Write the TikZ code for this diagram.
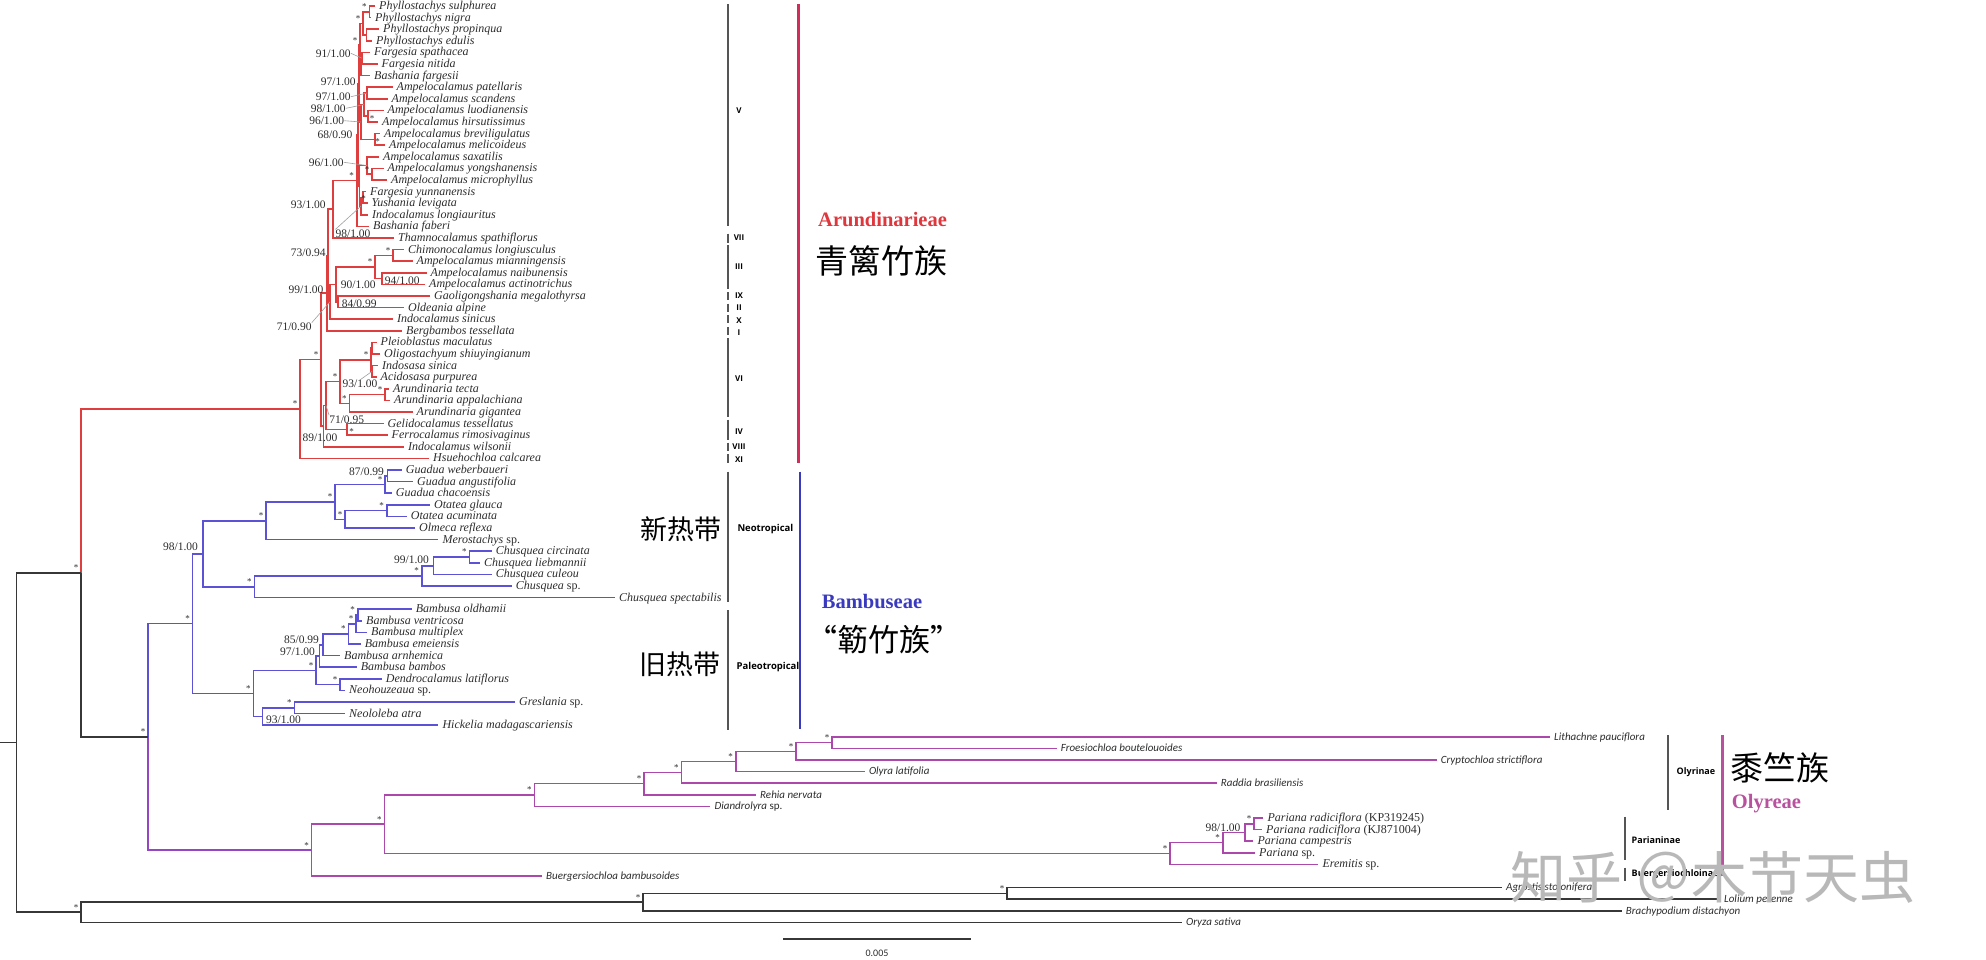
\documentclass[tikz,border=0pt]{standalone}
\usepackage{fontspec}
\setmainfont{Liberation Serif}
\newfontfamily\condf{Carlito}
\newfontfamily\osans{Open Sans}
\newfontfamily\cjkf{Noto Sans CJK SC}
\usetikzlibrary{calc}
\definecolor{rdc}{RGB}{222,62,62}
\definecolor{blc}{RGB}{92,82,214}
\definecolor{vic}{RGB}{150,70,195}
\definecolor{mgc}{RGB}{172,72,172}
\definecolor{bkc}{RGB}{55,55,55}
\definecolor{txc}{RGB}{45,45,45}
\definecolor{barg}{RGB}{85,85,85}
\definecolor{arub}{RGB}{212,44,88}
\definecolor{arut}{RGB}{222,56,62}
\definecolor{bamb}{RGB}{58,58,190}
\definecolor{olyb}{RGB}{184,82,158}
\newcommand\st[2][-5,-5]{\node[ast] (s#2) at ($(#2)+(#1)$) {*};}
\begin{document}
\begin{tikzpicture}[x=1pt,y=-1pt,
  tree/.style={line width=1.6pt},
  rdl/.style={tree, draw=rdc},
  bll/.style={tree, draw=blc},
  mgl/.style={tree, draw=mgc},
  bkl/.style={tree, draw=bkc},
  tx/.style={anchor=west, inner xsep=4pt, inner ysep=0pt, text height=8pt, text depth=1pt, text=txc, font=\fontsize{12}{12}\selectfont\itshape},
  tc/.style={tx, font=\condf\fontsize{11}{11}\selectfont\itshape, text height=7.5pt},
  sup/.style={inner sep=0pt, text=txc, font=\fontsize{11.5}{11.5}\selectfont},
  ast/.style={inner sep=0pt, text=txc, font=\fontsize{9}{9}\selectfont},
  ldr/.style={draw=gray!75, line width=0.6pt},
  gbar/.style={draw=barg, line width=2pt},
  rom/.style={font=\osans\bfseries\fontsize{8}{8}\selectfont, text=black, inner sep=0pt},
  grp/.style={font=\osans\bfseries\fontsize{9.5}{9.5}\selectfont, text=black, inner sep=0pt},
  tribe/.style={font=\bfseries\fontsize{20.5}{20.5}\selectfont, inner sep=0pt, anchor=west},
  zh/.style={font=\cjkf\fontsize{33}{33}\selectfont, inner sep=0pt, text=black},
]
\fill[white] (0,0) rectangle (1986,959);
\useasboundingbox (0,0) rectangle (1986,959);

% ---------- internal nodes ----------
\coordinate (Ph1) at (369.3,11.8);
\coordinate (Ph2) at (366.5,35.0);
\coordinate (Phy) at (363,23.4);
\coordinate (Fg) at (362,58.2);
\coordinate (FB) at (361,66.9);
\coordinate (PFB) at (360,45.15);
\coordinate (Ap1) at (367,93.0);
\coordinate (Ap2) at (368,116.2);
\coordinate (Ap12) at (364,104.6);
\coordinate (Ap3) at (375,139.4);
\coordinate (Ap123) at (361,122.0);
\coordinate (G1) at (359,83.6);
\coordinate (Ap4a) at (372,174.2);
\coordinate (Ap4) at (367,165.5);
\coordinate (Yus) at (363,197.4);
\coordinate (Yus2) at (361,206.1);
\coordinate (G3) at (359.5,185.8);
\coordinate (X) at (358,134.7);
\coordinate (Vc) at (356.7,180.5);
\coordinate (NV7) at (333,209.25);
\coordinate (C1) at (393,255.4);
\coordinate (C2) at (382,278.6);
\coordinate (III) at (375,267.0);
\coordinate (N8) at (338,301.8);
\coordinate (N7) at (336,284.4);
\coordinate (N6) at (330,301.8);
\coordinate (N5) at (328,255.5);
\coordinate (N3) at (327,293.15);
\coordinate (VI1p) at (372,348.2);
\coordinate (VI1q) at (372,371.4);
\coordinate (VI1) at (371,359.8);
\coordinate (Ar1) at (385,394.6);
\coordinate (Ar) at (349.3,403.3);
\coordinate (VI) at (340,381.55);
\coordinate (IV) at (346.7,429.4);
\coordinate (NVI4) at (326,405.5);
\coordinate (N4) at (323.3,426.15);
\coordinate (N2) at (321,359.65);
\coordinate (N1) at (300,409.0);
\coordinate (Gwa) at (387.3,475.8);
\coordinate (Gu) at (385,484.5);
\coordinate (Ot) at (386.7,510.6);
\coordinate (Ot2) at (345,519.3);
\coordinate (GO) at (335,501.9);
\coordinate (Neo1) at (266,520.75);
\coordinate (Ch1) at (469.3,557.0);
\coordinate (Ch2) at (433.3,565.7);
\coordinate (Ch3) at (421.7,575.85);
\coordinate (Ch4) at (254.3,586.7);
\coordinate (Neo) at (203,553.7);
\coordinate (B1) at (357.7,615.0);
\coordinate (B2) at (356,623.7);
\coordinate (B3) at (348.3,633.85);
\coordinate (B4) at (322.7,644.7);
\coordinate (B5) at (319.3,655.95);
\coordinate (DN) at (340,684.6);
\coordinate (Pal1) at (316,670.3);
\coordinate (GN) at (294.3,707.8);
\coordinate (GNH) at (262.3,716.5);
\coordinate (Pal) at (253.3,693.4);
\coordinate (Bam) at (192.5,623.55);
\coordinate (O6) at (832.2,742.6);
\coordinate (O5) at (796,751.3);
\coordinate (O4) at (735.7,761.45);
\coordinate (O3) at (681.3,772.3);
\coordinate (O2) at (644,783.55);
\coordinate (O1) at (534.3,794.95);
\coordinate (P1) at (1254,823.8);
\coordinate (P2) at (1245,832.5);
\coordinate (P3) at (1222.7,842.65);
\coordinate (P4) at (1170,853.5);
\coordinate (Oly) at (384.3,824.2);
\coordinate (Ol) at (311.6,850.1);
\coordinate (BO) at (148,736.8);
\coordinate (Ing) at (81,572.9);
\coordinate (Pooid1) at (1007,893.4);
\coordinate (Pooid2) at (643,902.1);
\coordinate (Out) at (81,912.25);
\coordinate (Root) at (16.5,742.6);
\coordinate (RB) at (0,742.6);

% ---------- leaves ----------
\node[tx] (L0) at (375,6) {Phyllostachys sulphurea};
\node[tx] (L1) at (371,17.6) {Phyllostachys nigra};
\node[tx] (L2) at (379,29.2) {Phyllostachys propinqua};
\node[tx] (L3) at (372,40.8) {Phyllostachys edulis};
\node[tx] (L4) at (370,52.4) {Fargesia spathacea};
\node[tx] (L5) at (377.5,64) {Fargesia nitida};
\node[tx] (L6) at (370,75.6) {Bashania fargesii};
\node[tx] (L7) at (392.5,87.2) {Ampelocalamus patellaris};
\node[tx] (L8) at (387.5,98.8) {Ampelocalamus scandens};
\node[tx] (L9) at (383.5,110.4) {Ampelocalamus luodianensis};
\node[tx] (L10) at (378,122) {Ampelocalamus hirsutissimus};
\node[tx] (L11) at (380,133.6) {Ampelocalamus breviligulatus};
\node[tx] (L12) at (385,145.2) {Ampelocalamus melicoideus};
\node[tx] (L13) at (379,156.8) {Ampelocalamus saxatilis};
\node[tx] (L14) at (383.5,168.4) {Ampelocalamus yongshanensis};
\node[tx] (L15) at (387,180) {Ampelocalamus microphyllus};
\node[tx] (L16) at (366,191.6) {Fargesia yunnanensis};
\node[tx] (L17) at (367.5,203.2) {Yushania levigata};
\node[tx] (L18) at (368,214.8) {Indocalamus longiauritus};
\node[tx] (L19) at (369,226.4) {Bashania faberi};
\node[tx] (L20) at (394,238) {Thamnocalamus spathiflorus};
\node[tx] (L21) at (404,249.6) {Chimonocalamus longiusculus};
\node[tx] (L22) at (412.5,261.2) {Ampelocalamus mianningensis};
\node[tx] (L23) at (426.5,272.8) {Ampelocalamus naibunensis};
\node[tx] (L24) at (425,284.4) {Ampelocalamus actinotrichus};
\node[tx] (L25) at (430,296) {Gaoligongshania megalothyrsa};
\node[tx] (L26) at (404,307.6) {Oldeania alpine};
\node[tx] (L27) at (393,319.2) {Indocalamus sinicus};
\node[tx] (L28) at (402,330.8) {Bergbambos tessellata};
\node[tx] (L29) at (376.5,342.4) {Pleioblastus maculatus};
\node[tx] (L30) at (380,354) {Oligostachyum shiuyingianum};
\node[tx] (L31) at (378,365.6) {Indosasa sinica};
\node[tx] (L32) at (376.5,377.2) {Acidosasa purpurea};
\node[tx] (L33) at (389,388.8) {Arundinaria tecta};
\node[tx] (L34) at (390,400.4) {Arundinaria appalachiana};
\node[tx] (L35) at (412.5,412) {Arundinaria gigantea};
\node[tx] (L36) at (383.5,423.6) {Gelidocalamus tessellatus};
\node[tx] (L37) at (387.5,435.2) {Ferrocalamus rimosivaginus};
\node[tx] (L38) at (404,446.8) {Indocalamus wilsonii};
\node[tx] (L39) at (429,458.4) {Hsuehochloa calcarea};
\node[tx] (L40) at (401.7,470) {Guadua weberbaueri};
\node[tx] (L41) at (413,481.6) {Guadua angustifolia};
\node[tx] (L42) at (391.7,493.2) {Guadua chacoensis};
\node[tx] (L43) at (430,504.8) {Otatea glauca};
\node[tx] (L44) at (406.7,516.4) {Otatea acuminata};
\node[tx] (L45) at (415,528) {Olmeca reflexa};
\node[tx] (L46) at (438.3,539.6) {Merostachys \textup{sp.}};
\node[tx] (L47) at (491.7,551.2) {Chusquea circinata};
\node[tx] (L48) at (480,562.8) {Chusquea liebmannii};
\node[tx] (L49) at (491.7,574.4) {Chusquea culeou};
\node[tx] (L50) at (511.7,586) {Chusquea \textup{sp.}};
\node[tx] (L51) at (615,597.6) {Chusquea spectabilis};
\node[tx] (L52) at (411.7,609.2) {Bambusa oldhamii};
\node[tx] (L53) at (362,620.8) {Bambusa ventricosa};
\node[tx] (L54) at (367,632.4) {Bambusa multiplex};
\node[tx] (L55) at (360.7,644) {Bambusa emeiensis};
\node[tx] (L56) at (340,655.6) {Bambusa arnhemica};
\node[tx] (L57) at (356.7,667.2) {Bambusa bambos};
\node[tx] (L58) at (381.7,678.8) {Dendrocalamus latiflorus};
\node[tx] (L59) at (345,690.4) {Neohouzeaua \textup{sp.}};
\node[tx] (L60) at (515,702) {Greslania \textup{sp.}};
\node[tx] (L61) at (345,713.6) {Neololeba atra};
\node[tx] (L62) at (438.3,725.2) {Hickelia madagascariensis};
\node[tc] (L63) at (1550,736.8) {Lithachne pauciflora};
\node[tc] (L64) at (1056.7,748.4) {Froesiochloa boutelouoides};
\node[tc] (L65) at (1436.7,760) {Cryptochloa strictiflora};
\node[tc] (L66) at (864.8,771.6) {Olyra latifolia};
\node[tc] (L67) at (1216.7,783.2) {Raddia brasiliensis};
\node[tc] (L68) at (756,794.8) {Rehia nervata};
\node[tc] (L69) at (710.4,806.4) {Diandrolyra \textup{sp.}};
\node[tx] (L70) at (1263.3,818) {Pariana radiciflora \textup{(KP319245)}};
\node[tx] (L71) at (1262,829.6) {Pariana radiciflora \textup{(KJ871004)}};
\node[tx] (L72) at (1253.3,841.2) {Pariana campestris};
\node[tx] (L73) at (1255,852.8) {Pariana \textup{sp.}};
\node[tx] (L74) at (1318.3,864.4) {Eremitis \textup{sp.}};
\node[tc] (L75) at (542,876) {Buergersiochloa bambusoides};
\node[tc] (L76) at (1502,887.6) {Agrostis stolonifera};
\node[tc] (L77) at (1720,899.2) {Lolium perenne};
\node[tc] (L78) at (1621.7,910.8) {Brachypodium distachyon};
\node[tc] (L79) at (1182,922.4) {Oryza sativa};

% ---------- branches ----------
\begin{scope}[rdl]
\draw (Ph1) |- (L0.west); \draw (Ph1) |- (L1.west);
\draw (Ph2) |- (L2.west); \draw (Ph2) |- (L3.west);
\draw (Phy) |- (Ph1); \draw (Phy) |- (Ph2);
\draw (Fg) |- (L4.west); \draw (Fg) |- (L5.west);
\draw (FB) |- (Fg); \draw (FB) |- (L6.west);
\draw (PFB) |- (Phy); \draw (PFB) |- (FB);
\draw (Ap1) |- (L7.west); \draw (Ap1) |- (L8.west);
\draw (Ap2) |- (L9.west); \draw (Ap2) |- (L10.west);
\draw (Ap12) |- (Ap1); \draw (Ap12) |- (Ap2);
\draw (Ap3) |- (L11.west); \draw (Ap3) |- (L12.west);
\draw (Ap123) |- (Ap12); \draw (Ap123) |- (Ap3);
\draw (G1) |- (PFB); \draw (G1) |- (Ap123);
\draw (Ap4a) |- (L14.west); \draw (Ap4a) |- (L15.west);
\draw (Ap4) |- (L13.west); \draw (Ap4) |- (Ap4a);
\draw (Yus) |- (L16.west); \draw (Yus) |- (L17.west);
\draw (Yus2) |- (Yus); \draw (Yus2) |- (L18.west);
\draw (G3) |- (Ap4); \draw (G3) |- (Yus2);
\draw (X) |- (G1); \draw (X) |- (G3);
\draw (Vc) |- (X); \draw (Vc) |- (L19.west);
\draw (NV7) |- (Vc); \draw (NV7) |- (L20.west);
\draw (C1) |- (L21.west); \draw (C1) |- (L22.west);
\draw (C2) |- (L23.west); \draw (C2) |- (L24.west);
\draw (III) |- (C1); \draw (III) |- (C2);
\draw (N8) |- (L25.west); \draw (N8) |- (L26.west);
\draw (N7) |- (III); \draw (N7) |- (N8);
\draw (N6) |- (N7); \draw (N6) |- (L27.west);
\draw (N5) |- (NV7); \draw (N5) |- (N6);
\draw (N3) |- (N5); \draw (N3) |- (L28.west);
\draw (VI1p) |- (L29.west); \draw (VI1p) |- (L30.west);
\draw (VI1q) |- (L31.west); \draw (VI1q) |- (L32.west);
\draw (VI1) |- (VI1p); \draw (VI1) |- (VI1q);
\draw (Ar1) |- (L33.west); \draw (Ar1) |- (L34.west);
\draw (Ar) |- (Ar1); \draw (Ar) |- (L35.west);
\draw (VI) |- (VI1); \draw (VI) |- (Ar);
\draw (IV) |- (L36.west); \draw (IV) |- (L37.west);
\draw (NVI4) |- (VI); \draw (NVI4) |- (IV);
\draw (N4) |- (NVI4); \draw (N4) |- (L38.west);
\draw (N2) |- (N3); \draw (N2) |- (N4);
\draw (N1) |- (N2); \draw (N1) |- (L39.west);
\draw (Ing) |- (N1);
\end{scope}
\begin{scope}[bll]
\draw (Gwa) |- (L40.west); \draw (Gwa) |- (L41.west);
\draw (Gu) |- (Gwa); \draw (Gu) |- (L42.west);
\draw (Ot) |- (L43.west); \draw (Ot) |- (L44.west);
\draw (Ot2) |- (Ot); \draw (Ot2) |- (L45.west);
\draw (GO) |- (Gu); \draw (GO) |- (Ot2);
\draw (Neo1) |- (GO); \draw (Neo1) |- (L46.west);
\draw (Ch1) |- (L47.west); \draw (Ch1) |- (L48.west);
\draw (Ch2) |- (Ch1); \draw (Ch2) |- (L49.west);
\draw (Ch3) |- (Ch2); \draw (Ch3) |- (L50.west);
\draw (Ch4) |- (Ch3); \draw (Ch4) |- (L51.west);
\draw (Neo) |- (Neo1); \draw (Neo) |- (Ch4);
\draw (B1) |- (L52.west); \draw (B1) |- (L53.west);
\draw (B2) |- (B1); \draw (B2) |- (L54.west);
\draw (B3) |- (B2); \draw (B3) |- (L55.west);
\draw (B4) |- (B3); \draw (B4) |- (L56.west);
\draw (B5) |- (B4); \draw (B5) |- (L57.west);
\draw (DN) |- (L58.west); \draw (DN) |- (L59.west);
\draw (Pal1) |- (B5); \draw (Pal1) |- (DN);
\draw (GN) |- (L60.west); \draw (GN) |- (L61.west);
\draw (GNH) |- (GN); \draw (GNH) |- (L62.west);
\draw (Pal) |- (Pal1); \draw (Pal) |- (GNH);
\draw (Bam) |- (Neo); \draw (Bam) |- (Pal);
\draw (BO) |- (Bam);
\end{scope}
\draw[tree, draw=vic] (BO) |- (Ol);
\begin{scope}[mgl]
\draw (O6) |- (L63.west); \draw (O6) |- (L64.west);
\draw (O5) |- (O6); \draw (O5) |- (L65.west);
\draw (O4) |- (O5); \draw (O4) |- (L66.west);
\draw (O3) |- (O4); \draw (O3) |- (L67.west);
\draw (O2) |- (O3); \draw (O2) |- (L68.west);
\draw (O1) |- (O2); \draw (O1) |- (L69.west);
\draw (P1) |- (L70.west); \draw (P1) |- (L71.west);
\draw (P2) |- (P1); \draw (P2) |- (L72.west);
\draw (P3) |- (P2); \draw (P3) |- (L73.west);
\draw (P4) |- (P3); \draw (P4) |- (L74.west);
\draw (Oly) |- (O1); \draw (Oly) |- (P4);
\draw (Ol) |- (Oly); \draw (Ol) |- (L75.west);
\end{scope}
\begin{scope}[bkl]
\draw (Pooid1) |- (L76.west); \draw (Pooid1) |- (L77.west);
\draw (Pooid2) |- (Pooid1); \draw (Pooid2) |- (L78.west);
\draw (Out) |- (Pooid2); \draw (Out) |- (L79.west);
\draw (Ing) |- (BO);
\draw (Root) |- (Ing); \draw (Root) |- (Out);
\draw (RB) -- (Root);
\end{scope}

% ---------- asterisks ----------
\st{Ph1} \st{Phy} \st{PFB} \st[4,2]{Ap2} \st[2.5,2.5]{Ap3} \st{Ap4a} \st[0.5,1.5]{Yus}
\st{Vc} \st{C1} \st{III} \st{N2} \st{N1} \st{VI1} \st{VI} \st{Ar1} \st{Ar} \st[5,2.5]{IV} \st{Ing}
\st{Gu} \st{Ot} \st{Ot2} \st{GO} \st{Neo1} \st{Ch1} \st{Ch3} \st{Ch4} \st{Bam}
\st{B1} \st{B2} \st{B3} \st{DN} \st{Pal1} \st{GN} \st{Pal} \st{BO}
\st{Ol} \st{Oly} \st{O1} \st{O2} \st{O3} \st{O4} \st{O5} \st{O6} \st{P1} \st{P3} \st{P4}
\st{Out} \st{Pooid2} \st{Pooid1}

% ---------- support values ----------
\node[sup] (q1) at (333.3,53.3) {91/1.00};
\node[sup] (q2) at (338.3,81.7) {97/1.00};
\node[sup] (q3) at (333.3,96.7) {97/1.00};
\node[sup] (q4) at (328.3,108.3) {98/1.00};
\node[sup] (q5) at (326.7,120.7) {96/1.00};
\node[sup] (q6) at (335,135) {68/0.90};
\node[sup] (q7) at (326.3,162.3) {96/1.00};
\node[sup] (q8) at (353,233.5) {98/1.00};
\node[sup] (q9) at (308.3,205) {93/1.00};
\node[sup] (q10) at (308.3,252.7) {73/0.94};
\node[sup] (q11) at (306,289.3) {99/1.00};
\node[sup] (q12) at (358.3,285) {90/1.00};
\node[sup] (q13) at (402.3,280.7) {94/1.00};
\node[sup] (q14) at (359.2,303.3) {84/0.99};
\node[sup] (q15) at (294.2,326.7) {71/0.90};
\node[sup] (q16) at (360,384) {93/1.00};
\node[sup] (q17) at (346.7,419.3) {71/0.95};
\node[sup] (q18) at (320,437.3) {89/1.00};
\node[sup] (q19) at (366.5,471.7) {87/0.99};
\node[sup] (q20) at (411.5,560) {99/1.00};
\node[sup] (q21) at (180.5,547) {98/1.00};
\node[sup] (q22) at (301.5,640) {85/0.99};
\node[sup] (q23) at (297.5,651.7) {97/1.00};
\node[sup] (q24) at (283.5,720) {93/1.00};
\node[sup] (q25) at (1223,827.7) {98/1.00};
\draw[ldr] (q1.east) -- (Fg);
\draw[ldr] (q3.east) -- (Ap1);
\draw[ldr] (q4.east) -- (Ap12);
\draw[ldr] (q5.east) -- (Ap123);
\draw[ldr] (q7.east) -- (Ap4);
\draw[ldr] (q8.north west) -- (Yus2);
\draw[ldr] (q15.north east) -- (N6);
\draw[ldr] (q16.north) -- (VI1q);
\draw[ldr] (q17.north west) -- (NVI4);

% ---------- clade bars ----------
\coordinate (v1) at (727.5,4);   \coordinate (v2) at (727.5,226);
\coordinate (v3) at (727.5,233.5); \coordinate (v4) at (727.5,242.5);
\coordinate (v5) at (727.5,245); \coordinate (v6) at (727.5,289);
\coordinate (v7) at (727.5,292); \coordinate (v8) at (727.5,300);
\coordinate (v9) at (727.5,303.5); \coordinate (v10) at (727.5,311.5);
\coordinate (v11) at (727.5,315); \coordinate (v12) at (727.5,323);
\coordinate (v13) at (727.5,327); \coordinate (v14) at (727.5,335);
\coordinate (v15) at (727.5,338); \coordinate (v16) at (727.5,416.5);
\coordinate (v17) at (727.5,419.5); \coordinate (v18) at (727.5,439.5);
\coordinate (v19) at (727.5,442.5); \coordinate (v20) at (727.5,451);
\coordinate (v21) at (727.5,454); \coordinate (v22) at (727.5,462.5);
\draw[gbar] (v1) -- (v2); \draw[gbar] (v3) -- (v4); \draw[gbar] (v5) -- (v6);
\draw[gbar] (v7) -- (v8); \draw[gbar] (v9) -- (v10); \draw[gbar] (v11) -- (v12);
\draw[gbar] (v13) -- (v14); \draw[gbar] (v15) -- (v16); \draw[gbar] (v17) -- (v18);
\draw[gbar] (v19) -- (v20); \draw[gbar] (v21) -- (v22);
\node[rom] (rV) at (739,111) {V};
\node[rom] (rVII) at (739,238) {VII};
\node[rom] (rIII) at (739,267) {III};
\node[rom] (rIX) at (739,296) {IX};
\node[rom] (rII) at (739,307.5) {II};
\node[rom] (rX) at (739,320.5) {X};
\node[rom] (rI) at (739,332.5) {I};
\node[rom] (rVI) at (739,378.5) {VI};
\node[rom] (rIV) at (739,431.5) {IV};
\node[rom] (rVIII) at (739,446.5) {VIII};
\node[rom] (rXI) at (739,460) {XI};

\coordinate (nt1) at (727.7,471.7); \coordinate (nt2) at (727.7,601.7);
\coordinate (pt1) at (727.7,610); \coordinate (pt2) at (727.7,730);
\draw[gbar] (nt1) -- (nt2); \draw[gbar] (pt1) -- (pt2);
\node[grp, anchor=west] (neot) at (737.3,529.3) {Neotropical};
\node[grp, anchor=west] (paleot) at (736.5,667.3) {Paleotropical};
\node[zh, anchor=east, font=\cjkf\fontsize{27}{27}\selectfont] (xrd) at (722,529.3) {新热带};
\node[zh, anchor=east, font=\cjkf\fontsize{27}{27}\selectfont] (jrd) at (721,664) {旧热带};

\coordinate (ab1) at (798.7,4); \coordinate (ab2) at (798.7,463.3);
\draw[draw=arub, line width=2.6pt] (ab1) -- (ab2);
\node[tribe, text=arut] (arun) at (818,220) {Arundinarieae};
\node[zh, anchor=west] (qlz) at (815,261) {青篱竹族};

\coordinate (bb1) at (800,471.7); \coordinate (bb2) at (800,729.3);
\draw[draw=bamb, line width=2.6pt] (bb1) -- (bb2);
\node[tribe, text=bamb] (bamt) at (821.7,601.7) {Bambuseae};
\node[zh, anchor=west, font=\cjkf\fontsize{31}{31}\selectfont] (lzz) at (806,640) {“簕竹族”};

\coordinate (oy1) at (1667.7,735); \coordinate (oy2) at (1667.7,810);
\coordinate (pa1) at (1625,816.7); \coordinate (pa2) at (1625,860);
\coordinate (bu1) at (1625,867.5); \coordinate (bu2) at (1625,881);
\draw[gbar] (oy1) -- (oy2); \draw[gbar] (pa1) -- (pa2); \draw[gbar] (bu1) -- (bu2);
\node[grp, anchor=west, font=\osans\bfseries\fontsize{9}{9}\selectfont] (olyn) at (1676.5,771.7) {Olyrinae};
\node[grp, anchor=west, font=\osans\bfseries\fontsize{9}{9}\selectfont] (parn) at (1631.5,840) {Parianinae};
\node[grp, anchor=west, font=\osans\bfseries\fontsize{9}{9}\selectfont] (buen) at (1631.5,874.3) {Buergersiochloinae};
\coordinate (ob1) at (1722.7,735); \coordinate (ob2) at (1722.7,876);
\draw[draw=olyb, line width=2.6pt] (ob1) -- (ob2);
\node[zh, anchor=west] (szz) at (1730,767.7) {黍竺族};
\node[tribe, text=olyb] (olyt) at (1731.7,803.3) {Olyreae};

% ---------- scale bar ----------
\coordinate (sb1) at (783,939); \coordinate (sb2) at (971,939);
\draw[line width=1.5pt, draw=bkc] (sb1) -- (sb2);
\node[inner sep=0pt, text=txc, font=\condf\fontsize{10}{10}\selectfont] (sbl) at (877,953) {0.005};

% ---------- watermark ----------
\node[inner sep=0pt, text=black!28, font=\cjkf\fontsize{56}{56}\selectfont] (wm) at (1713,877) {知乎 ＠木节天虫};
\end{tikzpicture}
\end{document}
